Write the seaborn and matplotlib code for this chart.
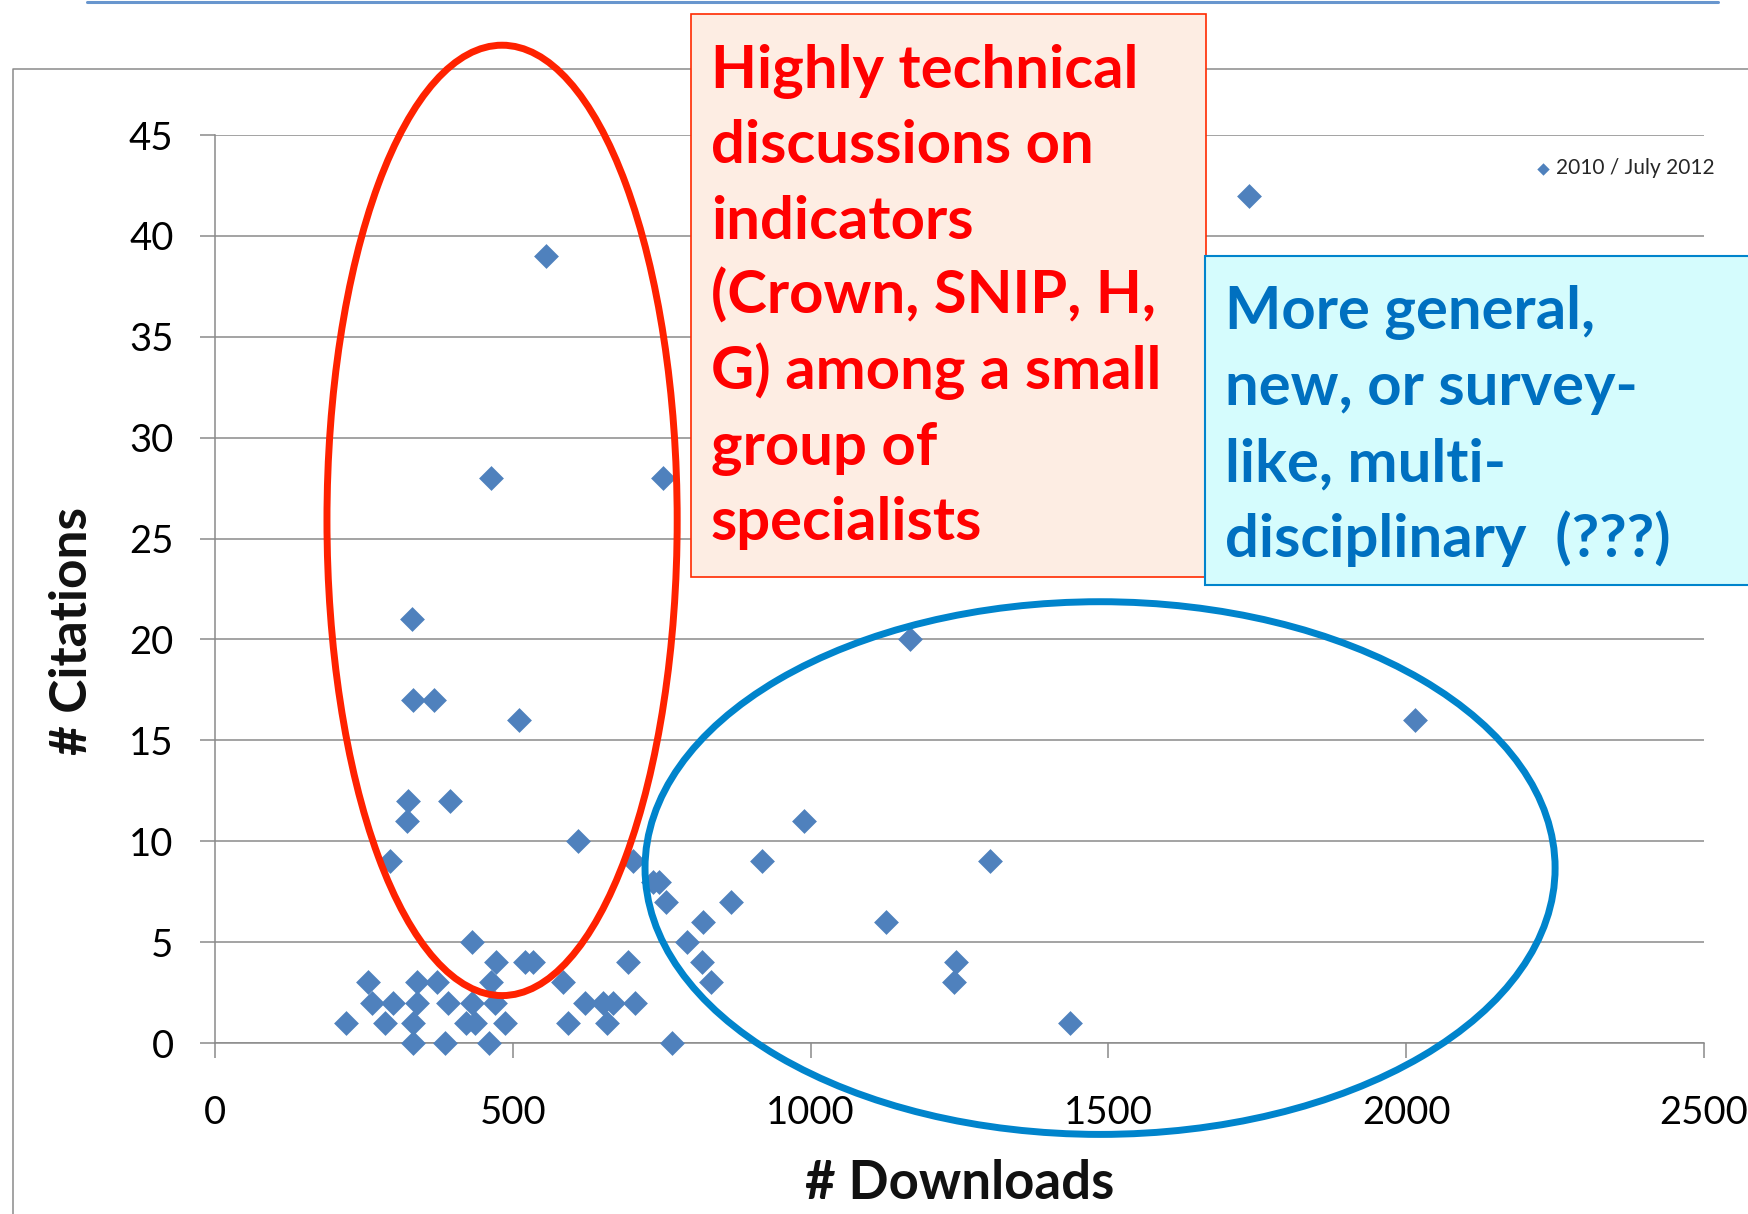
import matplotlib
matplotlib.use("Agg")
import matplotlib.pyplot as plt
import numpy as np
import pandas as pd
import seaborn as sns
from matplotlib.lines import Line2D
from matplotlib.patches import Ellipse, Rectangle


FIG_W, FIG_H = 1749, 1214

# (downloads, citations) per paper
DOWNLOADS = [
    1736, 556, 463, 753, 330, 1167, 333, 367, 511, 2015,
    324, 395, 322, 989, 609, 294, 701, 918, 1301, 736,
    745, 757, 866, 819, 1126, 431, 792, 471, 520, 534,
    693, 817, 1244, 257, 339, 372, 464, 584, 833, 1240,
    263, 299, 339, 391, 431, 470, 621, 651, 668, 705,
    220, 285, 332, 422, 436, 487, 592, 658, 1436, 332,
    386, 460, 768,
]
CITATIONS = [
    42, 39, 28, 28, 21, 20, 17, 17, 16, 16,
    12, 12, 11, 11, 10, 9, 9, 9, 9, 8,
    8, 7, 7, 6, 6, 5, 5, 4, 4, 4,
    4, 4, 4, 3, 3, 3, 3, 3, 3, 3,
    2, 2, 2, 2, 2, 2, 2, 2, 2, 2,
    1, 1, 1, 1, 1, 1, 1, 1, 1, 0,
    0, 0, 0,
]
SERIES_LABEL = "2010 / July 2012"

X_TICKS = [0, 500, 1000, 1500, 2000, 2500]
Y_TICKS = [0, 5, 10, 15, 20, 25, 30, 35, 40, 45]

RED_LINES = [
    "Highly technical",
    "discussions on",
    "indicators",
    "(Crown, SNIP, H,",
    "G) among a small",
    "group of",
    "specialists",
]
BLUE_LINES = [
    "More general,",
    "new, or survey-",
    "like, multi-",
    "disciplinary  (???)",
]

POINT_COLOR = "#4F81BD"
GRID_COLOR = "#8A8A8A"
RED = "#FF2200"
BLUE = "#0084CC"


def fx(px):
    return px / FIG_W


def fy(py):
    return 1 - py / FIG_H


sns.set_style("white")
plt.rcParams["font.family"] = ["Lato", "DejaVu Sans"]

df = pd.DataFrame({"Downloads": DOWNLOADS, "Citations": CITATIONS})

fig = plt.figure(figsize=(FIG_W / 100, FIG_H / 100), dpi=100)
ax = fig.add_axes([fx(215), fy(1043), fx(1704) - fx(215), fy(135) - fy(1043)])
ax.set_facecolor("none")

sns.scatterplot(
    data=df, x="Downloads", y="Citations", ax=ax,
    marker="D", s=160, color=POINT_COLOR, linewidth=0,
    label=SERIES_LABEL, clip_on=False, zorder=3,
)

ax.set_xlim(0, 2500)
ax.set_ylim(0, 45)
ax.set_xticks(X_TICKS)
ax.set_yticks(Y_TICKS)
ax.grid(False)
ax.yaxis.grid(True, color=GRID_COLOR, linewidth=1.1)
ax.set_axisbelow(True)
for side in ["top", "right"]:
    ax.spines[side].set_visible(False)
for side in ["left", "bottom"]:
    ax.spines[side].set_color(GRID_COLOR)
    ax.spines[side].set_linewidth(1.1)

ax.tick_params(axis="both", direction="out", length=10.8, width=1.1,
               color=GRID_COLOR, labelsize=27.5, labelcolor="#000000")
ax.tick_params(axis="y", pad=19, left=True)
ax.tick_params(axis="x", pad=27, bottom=True)

ax.set_xlabel("# Downloads", fontsize=38, fontweight="bold", color="#111111")
ax.set_ylabel("# Citations", fontsize=37, fontweight="bold", color="#111111")
ax.xaxis.label.set_va("center")
ax.yaxis.label.set_va("center")
ax.xaxis.set_label_coords(0.5, -0.155)
ax.yaxis.set_label_coords(-0.096, 0.4537)

ax.legend(
    loc="center left", bbox_to_anchor=(fx(1524), fy(168)),
    bbox_transform=fig.transFigure, frameon=False, fontsize=15,
    markerscale=0.5, handlelength=0.8, handletextpad=0.25, borderpad=0,
    labelcolor="#262626",
)

# highlighted clusters
ax.add_patch(Ellipse((482, 25.9), 588, 47.1, fill=False, edgecolor=RED,
                     linewidth=5, clip_on=False, zorder=4))
ax.add_patch(Ellipse((1486, 8.67), 1528, 26.4, fill=False, edgecolor=BLUE,
                     linewidth=5, clip_on=False, zorder=4))

# slide decorations: title underline and chart frame
fig.add_artist(Line2D([fx(87), fx(1718)], [fy(1.5), fy(1.5)], color="#6896CE", linewidth=2.2))
fig.add_artist(Line2D([fx(13), fx(13), fx(1760)], [fy(1220), fy(69), fy(69)],
                      color=GRID_COLOR, linewidth=1.1, zorder=0))

# callout boxes
fig.add_artist(Rectangle((fx(691), fy(577)), fx(1206) - fx(691), fy(14) - fy(577),
                         transform=fig.transFigure, facecolor="#FDEDE3",
                         edgecolor="#FF2A00", linewidth=1.2, zorder=5))
for i, line in enumerate(RED_LINES):
    fig.text(fx(711), fy(88 + i * 75.3), line, color="#FF0000", fontsize=43,
             fontweight="bold", ha="left", va="baseline", zorder=6)

fig.add_artist(Rectangle((fx(1205), fy(585)), fx(1770) - fx(1205), fy(256) - fy(585),
                         transform=fig.transFigure, facecolor="#D5FCFD",
                         edgecolor=BLUE, linewidth=1.5, zorder=5))
for i, line in enumerate(BLUE_LINES):
    fig.text(fx(1225), fy(329 + i * 76), line, color="#0070C0", fontsize=43,
             fontweight="bold", ha="left", va="baseline", zorder=6)

fig.savefig("out.png", dpi=100)
